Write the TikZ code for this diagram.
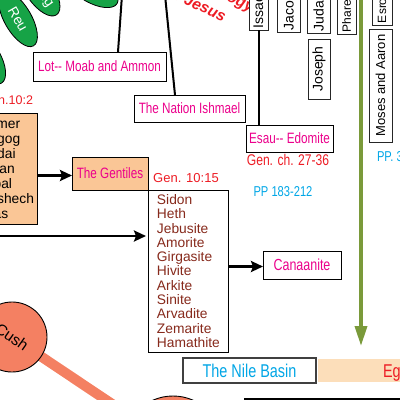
\documentclass[tikz,border=0pt]{standalone}
\usepackage{fontspec}
\setmainfont{Liberation Sans}
\newfontfamily\cond[FakeStretch=0.78]{Liberation Sans}
\usetikzlibrary{arrows.meta,shapes.geometric}
\definecolor{mag}{RGB}{236,0,140}
\definecolor{rd}{RGB}{237,28,36}
\definecolor{cy}{RGB}{0,166,230}
\definecolor{brn}{RGB}{135,42,28}
\definecolor{olivegr}{RGB}{122,154,58}
\definecolor{salm}{RGB}{244,128,98}
\definecolor{peach}{RGB}{250,198,150}
\definecolor{peachl}{RGB}{252,222,186}
\definecolor{leafgr}{RGB}{22,163,70}
\begin{document}
\begin{tikzpicture}[x=1pt,y=-1pt,
  every node/.style={inner sep=0pt, outer sep=0pt},
  labbox/.style={draw=black, line width=0.9pt, fill=white, text=mag, font=\cond\fontsize{15}{18}\selectfont},
  vlab/.style={draw=black!85, line width=0.9pt, fill=white, rotate=90, inner sep=2pt, align=left},
  arr/.style={line width=2.8pt, -{Stealth[length=12pt,width=11pt,inset=2pt]}},
  conn/.style={line width=2pt},
  lst/.style={align=left, inner sep=0pt, font=\fontsize{13.8}{14.3}\selectfont},
  leafst/.style={ellipse, draw=black, line width=0.8pt, fill=leafgr, text=white, font=\fontsize{14}{16}\selectfont},
]
\useasboundingbox (0,0) rectangle (400,400);
\clip (0,0) rectangle (400,400);

% leaves
\node[leafst, minimum width=62pt, minimum height=27pt, rotate=-60] (reu) at (18,19) {Reu};
\node[leafst, minimum width=58pt, minimum height=27pt, rotate=-55] (serug) at (40,-9) {Serug};
\node[leafst, minimum width=58pt, minimum height=27pt, rotate=-30] (leafc) at (92,-11) {};
\node[leafst, minimum width=58pt, minimum height=27pt, rotate=-60] (leafd) at (-13,58) {};

% red title
\node[font=\bfseries\itshape\fontsize{15.5}{18}\selectfont, text=rd, rotate=-25, anchor=base east] (genA) at (251,12) {Genealogy};
\node[font=\bfseries\itshape\fontsize{15.5}{18}\selectfont, text=rd, rotate=-25, anchor=base east] (genB) at (223,22) {of Jesus};

% Lot and Ishmael
\coordinate (lottop) at (122,-5);
\coordinate (ishtop) at (165,-5);
\node[labbox, minimum width=133pt, minimum height=29pt] (lot) at (99.5,66.5) {Lot-- Moab and Ammon};
\node[labbox, minimum width=111pt, minimum height=27pt] (ishmael) at (189.5,108.5) {The Nation Ishmael};
\draw[conn] (lottop) -- ([xshift=18.5pt]lot.north);
\draw[conn] (ishtop) -- ([xshift=-14.5pt]ishmael.north);

% vertical boxes
\node[vlab, text width=52pt, minimum height=19pt, font=\fontsize{14}{16}\selectfont] (issac) at (258.5,2) {Issac};
\node[vlab, text width=52pt, minimum height=23pt, font=\fontsize{14}{16}\selectfont] (jacob) at (288.5,4) {Jacob};
\node[vlab, text width=52pt, minimum height=23pt, font=\fontsize{14}{16}\selectfont] (judah) at (318.5,5) {Judah};
\node[vlab, text width=52pt, minimum height=19pt, font=\fontsize{12}{14}\selectfont] (pharez) at (346.5,6) {Pharez};
\node[vlab, text width=40pt, minimum height=20pt, font=\fontsize{12}{14}\selectfont] (esrom) at (382,3) {Esrom};
\node[vlab, minimum width=60pt, minimum height=22pt, font=\fontsize{14}{16}\selectfont] (joseph) at (319,69) {Joseph};
\node[vlab, minimum width=113pt, minimum height=23pt, font=\fontsize{13}{15}\selectfont] (moses) at (380.5,85.5) {Moses and Aaron};

% Esau
\node[labbox, minimum width=87pt, minimum height=27pt] (esau) at (289.5,138.5) {Esau-- Edomite};
\draw[conn] (issac.west) -- (issac.west |- esau.north);
\node[text=rd, font=\cond\fontsize{15.5}{18}\selectfont] (gench) at (288,160) {Gen. ch. 27-36};
\node[text=cy, font=\cond\fontsize{14.3}{17}\selectfont] (ppa) at (283,192) {PP 183-212};
\node[text=cy, font=\cond\fontsize{14.3}{17}\selectfont, anchor=west] (ppb) at (377,157) {PP. 3};

% green arrow
\coordinate (gtop) at (361,-5);
\coordinate (gbot) at (361,346);
\draw[olivegr, line width=3.5pt, -{Triangle[length=20pt,width=12pt]}] (gtop) -- (gbot);

% left list
\node[text=rd, font=\fontsize{12.5}{15}\selectfont, anchor=east] (genten) at (33,100) {Gen.10:2};
\node[draw, line width=0.9pt, fill=peach, minimum width=57pt, minimum height=111pt] (gomer) at (8.5,168.5) {};
\node[lst, font=\fontsize{13.8}{15}\selectfont, anchor=base west] (gomertxt) at (-22,218) {Gomer\\Magog\\Madai\\Javan\\Tubal\\Meshech\\Tiras};

% Gentiles
\node[labbox, fill=peach, minimum width=76pt, minimum height=33pt] (gentiles) at (110,173.5) {The Gentiles};
\coordinate (gin) at ([yshift=-2pt]gentiles.west);
\draw[arr] (gin -| gomer.east) -- (gin);

\node[text=rd, font=\fontsize{13}{15}\selectfont] (gentf) at (186,178) {Gen. 10:15};

% Canaan list
\node[draw, line width=0.9pt, fill=white, minimum width=80pt, minimum height=162pt, text width=62pt, lst, text=brn] (canaan) at (188,271) {Sidon\\Heth\\Jebusite\\Amorite\\Girgasite\\Hivite\\Arkite\\Sinite\\Arvadite\\Zemarite\\Hamathite};
\coordinate (lstart) at (-5,236);
\draw[arr, shorten >=2pt] (lstart) -- (lstart -| canaan.west);

\node[labbox, minimum width=78pt, minimum height=28pt, font=\cond\fontsize{16}{19}\selectfont] (canaanite) at (302,265) {Canaanite};
\draw[arr] ([yshift=-1.5pt]canaanite.west -| canaan.east) -- ([yshift=-1.5pt]canaanite.west);

% Nile and Egypt
\node[draw=black!75, line width=1.2pt, fill=white, minimum width=133pt, minimum height=25pt, text=cy, font=\cond\fontsize{18.5}{21}\selectfont] (nile) at (249.5,370.5) {The Nile Basin};
\node[fill=peachl, minimum width=92pt, minimum height=23pt] (egbox) at (364,370.5) {};
\node[text=rd, font=\cond\fontsize{18.5}{21}\selectfont, anchor=base west] (egypt) at (383,377) {Egypt};

% bottom box
\node[draw, line width=1.2pt, minimum width=165pt, minimum height=41pt] (botbox) at (327.5,419.5) {};

% circles
\coordinate (cushc) at (12,337);
\coordinate (bandend) at (145,426);
\draw[salm, line width=10pt] (cushc) -- (bandend);
\node[circle, draw, line width=0.9pt, fill=salm, minimum size=70pt, rotate=-35, font=\fontsize{15.5}{18}\selectfont] (cush) at (cushc) {Cush};
\node[circle, draw, line width=0.9pt, fill=salm, minimum size=100pt] (circb) at (173,446) {};
\end{tikzpicture}
\end{document}
